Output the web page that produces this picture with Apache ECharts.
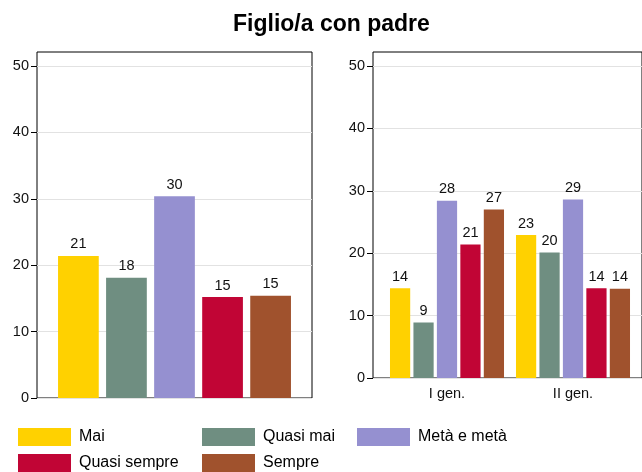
<!DOCTYPE html>
<html>
<head>
<meta charset="utf-8">
<script src="https://cdn.jsdelivr.net/npm/echarts@6/dist/echarts.min.js"></script>
<style>
  html, body { margin: 0; padding: 0; background: #fff; }
  #chart { width: 642px; height: 472px; }
</style>
</head>
<body>
<div id="chart"></div>
<script>
// answers (percent)
const categories = ["Mai", "Quasi mai", "Metà e metà", "Quasi sempre", "Sempre"];
const totale = [21.4, 18.1, 30.4, 15.2, 15.4];
const primaGen = [14.4, 8.9, 28.4, 21.4, 27.0];
const secondaGen = [22.9, 20.1, 28.6, 14.4, 14.3];
const generazioni = ["I gen.", "II gen."];
const yTicks = [0, 10, 20, 30, 40, 50];

const colors = ["#ffd100", "#6f8e81", "#9590d0", "#c10535", "#a0522d"];
const font = "'Liberation Sans', Arial, sans-serif";

const chart = echarts.init(document.getElementById("chart"), null, { renderer: "canvas" });

const hiddenAxis = (type, grid) => ({
  type, gridIndex: grid, show: false, min: 0, max: 1,
  data: type === "category" ? ["x"] : undefined,
});

const yAxisShown = (grid) => ({
  type: "value",
  gridIndex: grid,
  min: yTicks[0],
  max: yTicks[yTicks.length - 1],
  interval: 10,
  axisLine: { show: false },
  axisTick: { show: true, length: 6, lineStyle: { color: "#000" } },
  axisLabel: { margin: 8, color: "#111", fontSize: 14.5, fontFamily: font },
  splitLine: { show: true, lineStyle: { color: "#e2e2e2", width: 1 } },
});

const barLabel = {
  show: true,
  position: "top",
  distance: 4,
  color: "#111",
  fontSize: 14.5,
  fontFamily: font,
  formatter: (p) => Math.round(p.value),
};

const series = [];
categories.forEach((name, k) => {
  series.push({
    name,
    type: "bar",
    xAxisIndex: 1,
    yAxisIndex: 1,
    data: [totale[k]],
    itemStyle: { color: colors[k] },
    barGap: "18%",
    barCategoryGap: "15.3%",
    label: barLabel,
  });
});
categories.forEach((name, k) => {
  series.push({
    name,
    type: "bar",
    xAxisIndex: 4,
    yAxisIndex: 4,
    data: [primaGen[k], secondaGen[k]],
    itemStyle: { color: colors[k] },
    barGap: "16%",
    barCategoryGap: "9.5%",
    label: barLabel,
  });
});

const legendBase = {
  orient: "vertical",
  top: 428,
  padding: 0,
  itemWidth: 53,
  itemHeight: 18,
  itemGap: 8,
  icon: "rect",
  textStyle: { fontSize: 16, color: "#000", fontFamily: font, padding: [0, 0, 0, 3] },
};

chart.setOption({
  backgroundColor: "#fff",
  animation: false,
  color: colors,
  title: {
    text: "Figlio/a con padre",
    left: 228,
    top: 8,
    textStyle: { fontSize: 23, fontWeight: "bold", color: "#000", fontFamily: font },
  },
  legend: [
    Object.assign({}, legendBase, { left: 18, data: [categories[0], categories[3]] }),
    Object.assign({}, legendBase, { left: 202, data: [categories[1], categories[4]] }),
    Object.assign({}, legendBase, { left: 357, data: [categories[2]] }),
  ],
  grid: [
    // left frame, left data
    { left: 37, top: 52, width: 275, height: 346, show: true, borderColor: "#000", borderWidth: 1 },
    { left: 37, top: 66, width: 275, height: 332 },
    // right frame, right y axis, right bars
    { left: 373, top: 52, width: 274, height: 326, show: true, borderColor: "#000", borderWidth: 1 },
    { left: 373, top: 66, width: 274, height: 312 },
    { left: 384, top: 66, width: 252, height: 312 },
  ],
  xAxis: [
    hiddenAxis("category", 0),
    { type: "category", gridIndex: 1, data: ["Totale"], show: false },
    hiddenAxis("category", 2),
    hiddenAxis("category", 3),
    {
      type: "category",
      gridIndex: 4,
      data: generazioni,
      axisLine: { show: false },
      axisTick: { show: false },
      axisLabel: { margin: 8, color: "#111", fontSize: 14.5, fontFamily: font },
    },
  ],
  yAxis: [
    hiddenAxis("value", 0),
    yAxisShown(1),
    hiddenAxis("value", 2),
    yAxisShown(3),
    { type: "value", gridIndex: 4, min: 0, max: 50, show: false },
  ],
  series,
});
</script>
</body>
</html>
